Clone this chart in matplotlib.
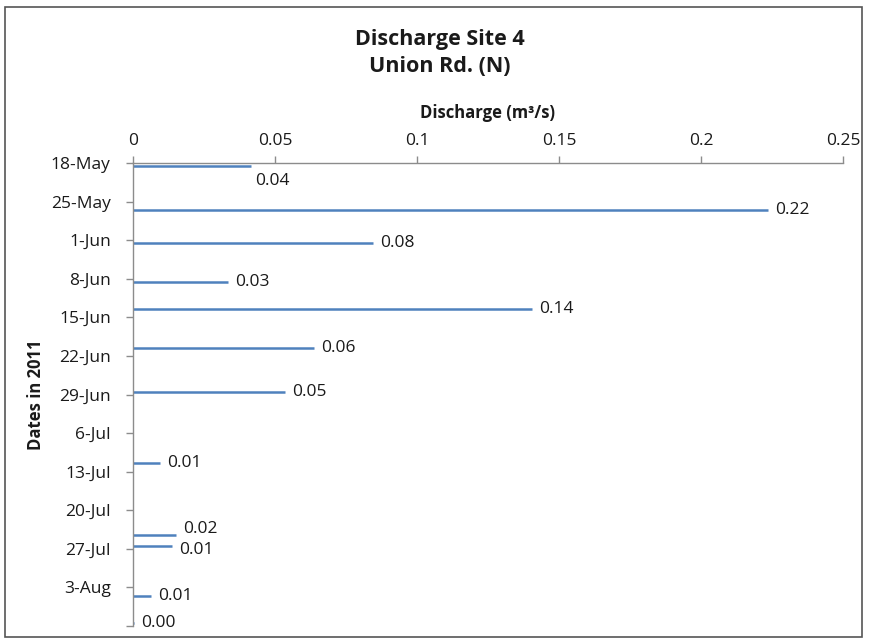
import matplotlib
matplotlib.use("Agg")
import matplotlib.pyplot as plt
import matplotlib.dates as mdates
import pandas as pd
import numpy as np
from matplotlib.patches import Rectangle

plt.rcParams['font.family'] = ['Open Sans', 'DejaVu Sans']

# Weekly discharge readings (m^3/s), Site 4, Union Rd. (N), 2011
sample_dates = ["2011-05-18", "2011-05-26", "2011-06-01", "2011-06-08",
                "2011-06-13", "2011-06-20", "2011-06-28", "2011-07-11",
                "2011-07-24", "2011-07-26", "2011-08-04", "2011-08-09"]
discharge = [0.0415, 0.2236, 0.0845, 0.0334, 0.1405, 0.0637,
             0.0535, 0.0095, 0.0152, 0.0137, 0.0063, 0.0005]

tick_dates = ["2011-05-18", "2011-05-25", "2011-06-01", "2011-06-08",
              "2011-06-15", "2011-06-22", "2011-06-29", "2011-07-06",
              "2011-07-13", "2011-07-20", "2011-07-27", "2011-08-03",
              "2011-08-10"]
tick_labels = ["18-May", "25-May", "1-Jun", "8-Jun", "15-Jun", "22-Jun",
               "29-Jun", "6-Jul", "13-Jul", "20-Jul", "27-Jul", "3-Aug", ""]

x_ticks = [0, 0.05, 0.1, 0.15, 0.2, 0.25]
x_tick_labels = ["0", "0.05", "0.1", "0.15", "0.2", "0.25"]

# label offsets in points (dx, dy) for readability where lines crowd
label_offsets = [(3, -11), (5, 0), (5, 0), (5, 0), (5, 0), (5, 0),
                 (5, 0), (5, 0), (5, 4), (5, -3), (5, 0), (5, 0)]

BLUE = "#4f81bd"
AXIS_GREY = "#8c8c8c"
TEXT = "#1a1a1a"

fig = plt.figure(figsize=(8.69, 6.39), dpi=100)
ax = fig.add_axes([133 / 869, 1 - 626 / 639, 710 / 869, 463 / 639])

# readings were taken around midday
y_vals = mdates.date2num(pd.to_datetime(sample_dates)) + 0.5
ax.hlines(y_vals, 0, discharge, color=BLUE, linewidth=1.8)

for y, v, (dx, dy) in zip(y_vals, discharge, label_offsets):
    ax.annotate(f"{v:.2f}", xy=(v, y), xytext=(dx, dy),
                textcoords="offset points", ha="left", va="center",
                fontsize=12.5, color=TEXT)

t_num = mdates.date2num(pd.to_datetime(tick_dates))
ax.set_yticks(t_num)
ax.set_yticklabels(tick_labels)
ax.set_ylim(t_num[-1], t_num[0])

ax.set_xlim(0, 0.25)
ax.set_xticks(x_ticks)
ax.set_xticklabels(x_tick_labels)
ax.xaxis.tick_top()
ax.xaxis.set_label_position("top")

for s in ["right", "bottom"]:
    ax.spines[s].set_visible(False)
for s in ["left", "top"]:
    ax.spines[s].set_color(AXIS_GREY)
    ax.spines[s].set_linewidth(1.0)

ax.tick_params(axis="both", direction="out", length=5, width=1,
               color=AXIS_GREY, labelsize=12.5, labelcolor=TEXT)
ax.tick_params(axis="y", pad=11)
ax.tick_params(axis="x", pad=5)

ax.set_xlabel("Discharge (m³/s)", fontsize=12, fontweight="bold",
              labelpad=11, color=TEXT)
ax.set_ylabel("Dates in 2011", fontsize=12, fontweight="bold", color=TEXT)
ax.yaxis.set_label_coords((45 - 133) / 710, (626 - 395) / 463)

fig.text(440 / 869, 1 - 39 / 639, "Discharge Site 4", ha="center",
         va="center", fontsize=15.5, fontweight="bold", color=TEXT)
fig.text(440 / 869, 1 - 66 / 639, "Union Rd. (N)", ha="center",
         va="center", fontsize=15.5, fontweight="bold", color=TEXT)

# chart frame
fig.patches.append(Rectangle((5 / 869, 1 - 637 / 639), 857 / 869, 630 / 639,
                             transform=fig.transFigure, fill=False,
                             edgecolor="#555555", linewidth=1.2))

fig.savefig("out.png", dpi=100)
